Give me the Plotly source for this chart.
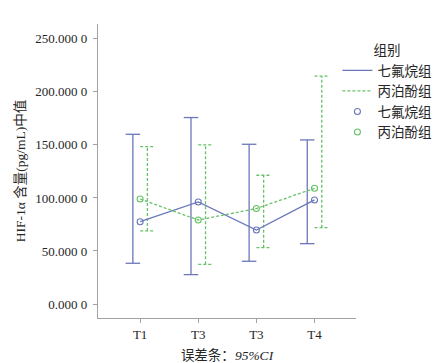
import plotly.graph_objects as go

# ---- data ----
tick_labels = ["T1", "T3", "T3", "T4"]
y_tick_values = [0, 50, 100, 150, 200, 250]
y_tick_labels = ["0.000 0", "50.000 0", "100.000 0", "150.000 0", "200.000 0", "250.000 0"]

group_a_name = "七氟烷组"
group_a_mean = [77.6, 96.2, 69.8, 98.1]
group_a_low = [38.4, 27.7, 40.3, 56.9]
group_a_high = [160.0, 175.8, 150.6, 154.7]

group_b_name = "丙泊酚组"
group_b_mean = [99.0, 79.2, 90.0, 109.1]
group_b_low = [68.9, 37.4, 53.1, 72.0]
group_b_high = [148.4, 150.0, 121.4, 214.8]

# ---- style ----
BLUE = "#6b77b9"
GREEN = "#66c266"
AXIS = "#a3a3a3"
TXT = "#262626"
FONT = "Liberation Serif, Noto Sans CJK SC, serif"

x_idx = list(range(len(tick_labels)))
offset = 0.125
cap = 0.125


def ci_segments(xs, lo, hi, shift):
    px, py = [], []
    for x, l, h in zip(xs, lo, hi):
        xc = x + shift
        px += [xc, xc, None, xc - cap, xc + cap, None, xc - cap, xc + cap, None]
        py += [l, h, None, h, h, None, l, l, None]
    return px, py


fig = go.Figure()

ax, ay = ci_segments(x_idx, group_a_low, group_a_high, -offset)
fig.add_trace(go.Scatter(x=ax, y=ay, mode="lines", showlegend=False, hoverinfo="skip",
                         line=dict(color=BLUE, width=1.3)))
bx, by = ci_segments(x_idx, group_b_low, group_b_high, offset)
fig.add_trace(go.Scatter(x=bx, y=by, mode="lines", showlegend=False, hoverinfo="skip",
                         line=dict(color=GREEN, width=1.3, dash="3px,2px")))

fig.add_trace(go.Scatter(x=x_idx, y=group_a_mean, mode="lines", name=group_a_name,
                         line=dict(color=BLUE, width=1.3)))
fig.add_trace(go.Scatter(x=x_idx, y=group_b_mean, mode="lines", name=group_b_name,
                         line=dict(color=GREEN, width=1.3, dash="3px,2px")))
fig.add_trace(go.Scatter(x=x_idx, y=group_a_mean, mode="markers", name=group_a_name,
                         marker=dict(symbol="circle-open", size=6, color=BLUE,
                                     line=dict(width=1.1, color=BLUE))))
fig.add_trace(go.Scatter(x=x_idx, y=group_b_mean, mode="markers", name=group_b_name,
                         marker=dict(symbol="circle-open", size=6, color=GREEN,
                                     line=dict(width=1.1, color=GREEN))))

# page body keeps an 8px default margin, so the figure is sized/margined to compensate
fig.update_layout(
    width=440, height=355,
    margin=dict(l=90, r=77, t=16, b=45),
    paper_bgcolor="white", plot_bgcolor="white",
    font=dict(family=FONT, size=12, color=TXT),
    legend=dict(
        title=dict(text="组别", side="top center",
                   font=dict(size=13.5, family=FONT, color=TXT)),
        x=0.928, xanchor="left", y=0.954, yanchor="top",
        font=dict(size=13.5, family=FONT, color=TXT),
        bgcolor="rgba(0,0,0,0)", tracegroupgap=0, itemwidth=30,
    ),
)

fig.update_xaxes(
    range=[-0.725, 3.714], tickmode="array", tickvals=x_idx, ticktext=tick_labels,
    showline=True, linecolor=AXIS, linewidth=1.3, showgrid=False, zeroline=False,
    ticks="outside", ticklen=4, tickcolor=AXIS, tickwidth=1.2, automargin=False,
    tickfont=dict(size=13, family=FONT, color=TXT),
    title=dict(text="误差条：<i>95%CI</i>", font=dict(size=13.5, family=FONT, color=TXT), standoff=11),
)
fig.update_yaxes(
    range=[-13.2, 264], tickmode="array", tickvals=y_tick_values, ticktext=y_tick_labels,
    showline=True, linecolor=AXIS, linewidth=1.3, showgrid=False, zeroline=False,
    ticks="outside", ticklen=4, tickcolor=AXIS, tickwidth=1.2, ticklabelstandoff=3,
    automargin=False,
    tickfont=dict(size=13, family=FONT, color=TXT),
    title=dict(text="HIF-1α 含量(pg/mL)中值", font=dict(size=13.5, family=FONT, color=TXT), standoff=6),
)

fig.write_html("out.html")
